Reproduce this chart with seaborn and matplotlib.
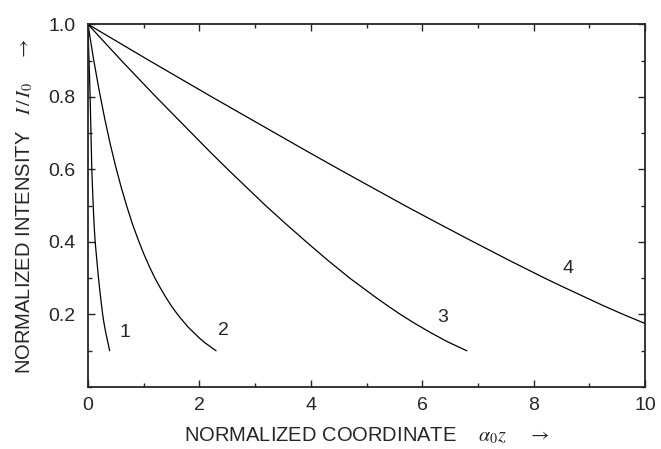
import pandas as pd
import matplotlib
matplotlib.use('Agg')
import matplotlib.pyplot as plt
from matplotlib.ticker import MultipleLocator, FormatStrFormatter
import seaborn as sns

# Curvas (x = alpha0*z, y = I/I0)
c1_x = [0.0, 0.01, 0.02, 0.03, 0.04, 0.055, 0.07, 0.082, 0.095, 0.11, 0.13, 0.16, 0.19,
        0.225, 0.265, 0.29, 0.32, 0.355, 0.39]
c1_y = [1.0, 0.95, 0.9, 0.85, 0.8, 0.7, 0.6, 0.55, 0.5, 0.45, 0.4, 0.35, 0.3,
        0.25, 0.2, 0.175, 0.15, 0.125, 0.1]

c2_x = [0.0, 0.1, 0.2, 0.3, 0.4, 0.5, 0.6, 0.7, 0.8, 0.9, 1.0, 1.1, 1.2, 1.3, 1.4, 1.5,
        1.6, 1.7, 1.8, 1.9, 2.0, 2.1, 2.2, 2.3]
c2_y = [1.0, 0.905, 0.819, 0.741, 0.670, 0.607, 0.549, 0.497, 0.449, 0.407, 0.368, 0.333,
        0.301, 0.273, 0.247, 0.223, 0.202, 0.183, 0.165, 0.150, 0.135, 0.122, 0.111, 0.100]

c3_x = [0.0, 0.3, 0.6, 0.91, 1.22, 1.54, 1.86, 2.18, 2.51, 2.85, 3.19, 3.55, 3.92, 4.3,
        4.7, 4.92, 5.14, 5.37, 5.61, 5.87, 6.15, 6.45, 6.8]
c3_y = [1.0, 0.95, 0.9, 0.85, 0.8, 0.75, 0.7, 0.65, 0.6, 0.55, 0.5, 0.45, 0.4, 0.35,
        0.3, 0.275, 0.25, 0.225, 0.2, 0.175, 0.15, 0.125, 0.1]

c4_x = [0.0, 0.55, 1.1, 1.66, 2.22, 2.79, 3.36, 3.93, 4.51, 5.1, 5.69, 6.3, 6.92, 7.55,
        8.2, 8.54, 8.89, 9.24, 9.61, 10.0]
c4_y = [1.0, 0.95, 0.9, 0.85, 0.8, 0.75, 0.7, 0.65, 0.6, 0.55, 0.5, 0.45, 0.4, 0.35,
        0.3, 0.275, 0.25, 0.225, 0.2, 0.175]

curve_names = ['1', '2', '3', '4']
label_x = [0.66, 2.44, 6.36, 8.62]
label_y = [0.15, 0.155, 0.193, 0.328]

sns.set_style('ticks')
plt.rcParams['font.family'] = ['Liberation Sans', 'DejaVu Sans']
plt.rcParams['mathtext.fontset'] = 'stix'

fig, ax = plt.subplots(figsize=(6.61, 4.49), dpi=100)
fig.subplots_adjust(left=0.133, right=0.976, top=0.946, bottom=0.138)

for xs, ys in [(c1_x, c1_y), (c2_x, c2_y), (c3_x, c3_y), (c4_x, c4_y)]:
    df = pd.DataFrame({'x': xs, 'y': ys})
    sns.lineplot(data=df, x='x', y='y', ax=ax, color='black', linewidth=0.9, sort=False)

for name, lx, ly in zip(curve_names, label_x, label_y):
    ax.text(lx, ly, name, fontsize=14, ha='center', va='center')

ax.set_xlim(0, 10)
ax.set_ylim(0, 1.0)
ax.set_xticks([0, 2, 4, 6, 8, 10])
ax.set_yticks([0.2, 0.4, 0.6, 0.8, 1.0])
ax.xaxis.set_minor_locator(MultipleLocator(1))
ax.yaxis.set_minor_locator(MultipleLocator(0.1))
ax.yaxis.set_major_formatter(FormatStrFormatter('%.1f'))
ax.tick_params(which='both', direction='in', top=True, right=True, width=1.0, labelsize=14)
ax.tick_params(which='major', length=5)
ax.tick_params(which='minor', length=3)
ax.tick_params(axis='y', pad=9)
ax.tick_params(axis='x', pad=7)
for s in ax.spines.values():
    s.set_linewidth(1.3)

ax.set_xlabel(r'NORMALIZED COORDINATE    $\alpha_0 z$    $\rightarrow$', fontsize=14.5, labelpad=8)
ax.set_ylabel(r'NORMALIZED INTENSITY   $I\,/\,I_0$    $\rightarrow$', fontsize=14.5)
ax.yaxis.set_label_coords(-0.095, 0.5)

plt.savefig('out.png', dpi=100)
